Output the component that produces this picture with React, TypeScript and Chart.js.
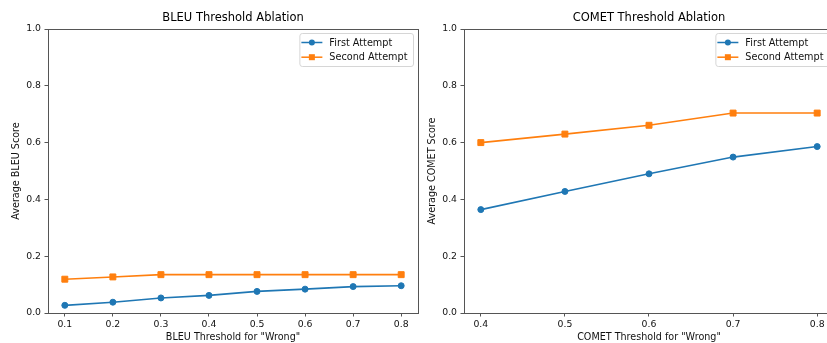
import React, { useEffect, useRef } from "react";
import { Chart, registerables } from "chart.js";

Chart.register(...registerables);

const bleuThresholds = [0.1, 0.2, 0.3, 0.4, 0.5, 0.6, 0.7, 0.8];
const bleuFirst = [0.027, 0.038, 0.053, 0.062, 0.076, 0.084, 0.093, 0.096];
const bleuSecond = [0.119, 0.127, 0.135, 0.135, 0.135, 0.135, 0.135, 0.135];

const cometThresholds = [0.4, 0.5, 0.6, 0.7, 0.8];
const cometFirst = [0.364, 0.428, 0.49, 0.549, 0.586];
const cometSecond = [0.6, 0.63, 0.661, 0.704, 0.704];

const yTicks = [0.0, 0.2, 0.4, 0.6, 0.8, 1.0];
const seriesLabels = ["First Attempt", "Second Attempt"];
const seriesColors = ["#1f77b4", "#ff7f0e"];
const seriesStyles = ["circle", "rect"];

const FONT = '"DejaVu Sans", sans-serif';

const framePlugin = {
  id: "frame",
  afterDraw(chart: any) {
    const { ctx, chartArea } = chart;
    ctx.save();
    ctx.strokeStyle = "#555";
    ctx.lineWidth = 1;
    const l = Math.round(chartArea.left) + 0.5;
    const t = Math.round(chartArea.top) + 0.5;
    const r = Math.round(chartArea.right) + 0.5;
    const b = Math.round(chartArea.bottom) + 0.5;
    ctx.strokeRect(l, t, r - l, b - t);
    ctx.restore();
  },
};

const boxLegendPlugin = {
  id: "boxLegend",
  afterDraw(chart: any) {
    const { ctx, chartArea } = chart;
    ctx.save();
    ctx.font = `9.7px ${FONT}`;
    const textW = Math.max(...seriesLabels.map((l) => ctx.measureText(l).width));
    const w = 30 + textW + 5.5;
    const h = 33;
    const x = chartArea.right - 5 - w;
    const y = chartArea.top + 4;
    ctx.beginPath();
    if ((ctx as any).roundRect) (ctx as any).roundRect(x + 0.5, y + 0.5, w, h, 2.5);
    else ctx.rect(x + 0.5, y + 0.5, w, h);
    ctx.fillStyle = "rgba(255,255,255,0.8)";
    ctx.fill();
    ctx.strokeStyle = "#d6d6d6";
    ctx.lineWidth = 1;
    ctx.stroke();
    seriesLabels.forEach((label, i) => {
      const cy = y + 9.5 + i * 14.7;
      ctx.strokeStyle = seriesColors[i];
      ctx.lineWidth = 1.5;
      ctx.beginPath();
      ctx.moveTo(x + 2, cy);
      ctx.lineTo(x + 23, cy);
      ctx.stroke();
      ctx.fillStyle = seriesColors[i];
      const mx = x + 12.5;
      if (seriesStyles[i] === "circle") {
        ctx.beginPath();
        ctx.arc(mx, cy, 3, 0, Math.PI * 2);
        ctx.fill();
      } else {
        ctx.fillRect(mx - 3, cy - 3, 6, 6);
      }
      ctx.fillStyle = "#111";
      ctx.textBaseline = "middle";
      ctx.textAlign = "left";
      ctx.fillText(label, x + 30, cy + 0.5);
    });
    ctx.restore();
  },
};

type PanelProps = {
  left: number;
  title: string;
  xLabel: string;
  yLabel: string;
  xs: number[];
  first: number[];
  second: number[];
};

function Panel({ left, title, xLabel, yLabel, xs, first, second }: PanelProps) {
  const ref = useRef<HTMLCanvasElement | null>(null);
  useEffect(() => {
    if (!ref.current) return;
    const span = xs[xs.length - 1] - xs[0];
    const xMin = xs[0] - span * 0.05;
    const xMax = xs[xs.length - 1] + span * 0.05;
    const seriesData = [first, second];
    const chart = new Chart(ref.current, {
      type: "line",
      data: {
        datasets: seriesData.map((vals, i) => ({
          label: seriesLabels[i],
          data: xs.map((x, j) => ({ x, y: vals[j] })),
          borderColor: seriesColors[i],
          backgroundColor: seriesColors[i],
          borderWidth: 1.6,
          pointStyle: seriesStyles[i] as any,
          pointRadius: seriesStyles[i] === "circle" ? 3 : 4.2,
          pointBorderWidth: 1,
          pointBorderColor: seriesColors[i],
          pointBackgroundColor: seriesColors[i],
          tension: 0,
          fill: false,
          clip: false as any,
        })),
      },
      options: {
        animation: false,
        responsive: false,
        devicePixelRatio: 1,
        events: [],
        layout: { padding: { left: 0, right: 7, top: 0, bottom: 0 } },
        plugins: {
          legend: { display: false },
          tooltip: { enabled: false },
          title: {
            display: true,
            text: title,
            color: "#000",
            fullSize: false,
            font: { family: FONT, size: 11.5, weight: "normal" as any },
            padding: { top: 11.5, bottom: 3.7 },
          },
        },
        scales: {
          x: {
            type: "linear",
            min: xMin,
            max: xMax,
            afterFit: (s: any) => {
              s.height = 30;
            },
            afterBuildTicks: (s: any) => {
              s.ticks = xs.map((v) => ({ value: v }));
            },
            grid: {
              display: true,
              drawOnChartArea: false,
              drawTicks: true,
              tickLength: 3.5,
              color: "#555",
              lineWidth: 1,
            },
            border: { display: false },
            ticks: {
              color: "#111",
              font: { family: FONT, size: 9.3 },
              padding: 3,
              maxRotation: 0,
              autoSkip: false,
              callback: (v: any) => Number(v).toFixed(1),
            },
            title: {
              display: true,
              text: xLabel,
              color: "#111",
              font: { family: FONT, size: 9.6 },
              padding: { top: 0, bottom: 0 },
            },
          },
          y: {
            type: "linear",
            min: 0,
            max: 1,
            afterFit: (s: any) => {
              s.width = 48;
            },
            afterBuildTicks: (s: any) => {
              s.ticks = yTicks.map((v) => ({ value: v }));
            },
            grid: {
              display: true,
              drawOnChartArea: false,
              drawTicks: true,
              tickLength: 3.5,
              color: "#555",
              lineWidth: 1,
            },
            border: { display: false },
            ticks: {
              color: "#111",
              font: { family: FONT, size: 9.3 },
              padding: 3.5,
              autoSkip: false,
              callback: (v: any) => Number(v).toFixed(1),
            },
            title: {
              display: true,
              text: yLabel,
              color: "#111",
              font: { family: FONT, size: 9.6 },
              padding: { top: 10.5, bottom: 0 },
            },
          },
        },
      },
      plugins: [framePlugin, boxLegendPlugin],
    } as any);
    return () => chart.destroy();
  }, []);
  return (
    <canvas
      ref={ref}
      width={425}
      height={343}
      style={{ position: "absolute", left, top: 0, width: 425, height: 343 }}
    />
  );
}

export default function App() {
  return (
    <div
      style={{
        position: "fixed",
        left: 0,
        top: 0,
        width: 827,
        height: 343,
        overflow: "hidden",
        background: "#fff",
      }}
    >
      <Panel
        left={0}
        title="BLEU Threshold Ablation"
        xLabel={'BLEU Threshold for "Wrong"'}
        yLabel="Average BLEU Score"
        xs={bleuThresholds}
        first={bleuFirst}
        second={bleuSecond}
      />
      <Panel
        left={416}
        title="COMET Threshold Ablation"
        xLabel={'COMET Threshold for "Wrong"'}
        yLabel="Average COMET Score"
        xs={cometThresholds}
        first={cometFirst}
        second={cometSecond}
      />
    </div>
  );
}
